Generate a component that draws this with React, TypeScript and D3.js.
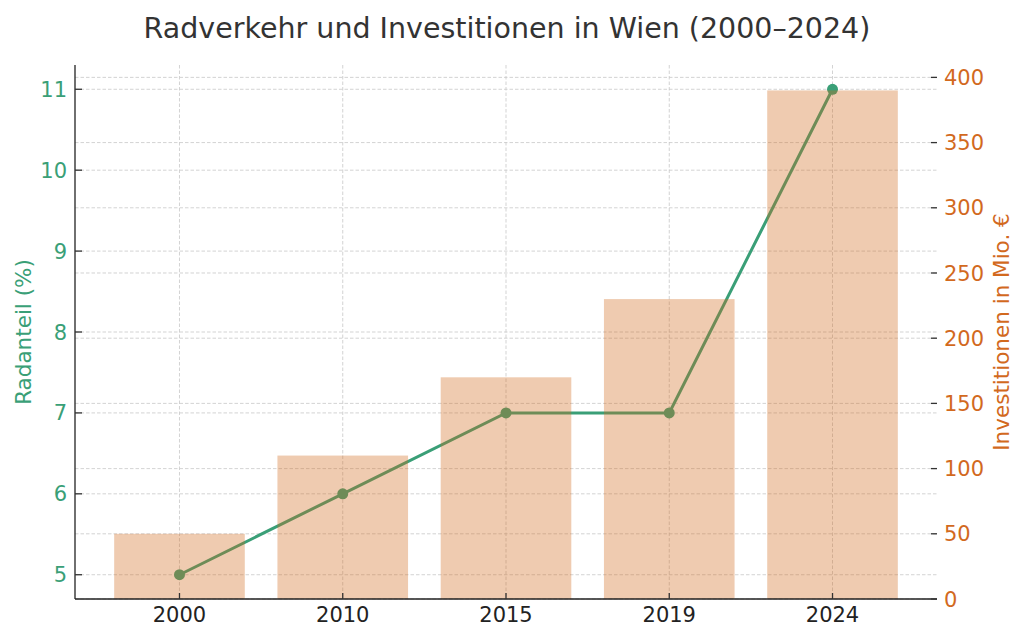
import React from "react";
import * as d3 from "d3";

const years = ["2000", "2010", "2015", "2019", "2024"];
const share = [5, 6, 7, 7, 11];
const invest = [50, 110, 170, 230, 390];
const leftTicks = [5, 6, 7, 8, 9, 10, 11];
const rightTicks = [0, 50, 100, 150, 200, 250, 300, 350, 400];

const GREEN = "#3a9f77";
const ORANGE = "#d2691e";
const FONT = "DejaVu Sans, sans-serif";

export default function App() {
  const W = 1024, H = 635;
  const L = 75, R = 937, T = 65, B = 599;
  const x = d3.scaleLinear().domain([-0.64, 4.64]).range([L, R]);
  const yL = d3.scaleLinear().domain([4.7, 11.3]).range([B, T]);
  const yR = d3.scaleLinear().domain([0, 409.5]).range([B, T]);
  const line = d3.line<number>().x((_, i) => x(i)).y((d) => yL(d));
  const bw = x(0.4) - x(-0.4);
  return (
    <svg width={W} height={H} style={{ position: "absolute", left: 0, top: 0, fontFamily: FONT }}>
      <rect width={W} height={H} fill="white" />
      <text x={507} y={38} textAnchor="middle" fontSize={28.5} fill="#333">
        Radverkehr und Investitionen in Wien (2000–2024)
      </text>
      {/* grids */}
      {years.map((_, i) => (
        <line key={"vg" + i} x1={x(i)} x2={x(i)} y1={T} y2={B} stroke="#c8c8c8" strokeWidth={0.8} strokeDasharray="3.5,2" />
      ))}
      {leftTicks.map((t) => (
        <line key={"lg" + t} x1={L} x2={R} y1={yL(t)} y2={yL(t)} stroke="#c8c8c8" strokeWidth={0.8} strokeDasharray="3.5,2" />
      ))}
      {rightTicks.map((t) => (
        <line key={"rg" + t} x1={L} x2={R} y1={yR(t)} y2={yR(t)} stroke="#c8c8c8" strokeWidth={0.8} strokeDasharray="3.5,2" />
      ))}
      {/* line */}
      <path d={line(share) || ""} fill="none" stroke={GREEN} strokeWidth={3} />
      {share.map((d, i) => (
        <circle key={"m" + i} cx={x(i)} cy={yL(d)} r={5.5} fill={GREEN} />
      ))}
      {/* bars on top with alpha */}
      {invest.map((d, i) => (
        <rect key={"b" + i} x={x(i) - bw / 2} y={yR(d)} width={bw} height={B - yR(d)} fill={ORANGE} fillOpacity={0.35} />
      ))}
      {/* spines */}
      <line x1={L} x2={L} y1={T} y2={B} stroke="#222" strokeWidth={1.3} />
      <line x1={L} x2={R} y1={B} y2={B} stroke="#222" strokeWidth={1.3} />
      {/* left ticks */}
      {leftTicks.map((t) => (
        <g key={"lt" + t}>
          <line x1={L} x2={L + 7} y1={yL(t)} y2={yL(t)} stroke="#333" strokeWidth={1.3} />
          <text x={L - 8} y={yL(t)} dy="0.36em" textAnchor="end" fontSize={21} fill={GREEN}>{t}</text>
        </g>
      ))}
      {rightTicks.map((t) => (
        <g key={"rt" + t}>
          <line x1={R - 6} x2={R} y1={yR(t)} y2={yR(t)} stroke="#333" strokeWidth={1.3} />
          <text x={R + 7} y={yR(t)} dy="0.36em" textAnchor="start" fontSize={21} fill={ORANGE}>{t}</text>
        </g>
      ))}
      {years.map((yr, i) => (
        <g key={"xt" + i}>
          <line x1={x(i)} x2={x(i)} y1={B} y2={B - 6} stroke="#333" strokeWidth={1.3} />
          <text x={x(i)} y={622} textAnchor="middle" fontSize={21} fill="#222">{yr}</text>
        </g>
      ))}
      <text transform={`translate(31,${(T + B) / 2}) rotate(-90)`} textAnchor="middle" fontSize={21.5} fill={GREEN}>
        Radanteil (%)
      </text>
      <text transform={`translate(1009,${(T + B) / 2}) rotate(-90)`} textAnchor="middle" fontSize={21.5} fill={ORANGE}>
        Investitionen in Mio. €
      </text>
    </svg>
  );
}
